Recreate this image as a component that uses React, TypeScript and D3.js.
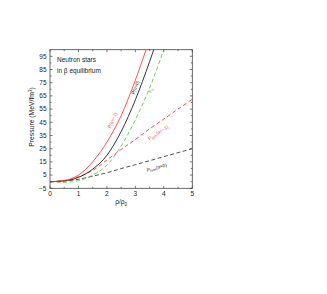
import React from 'react';
import * as d3 from 'd3';

// Data
const rhoRed = [0, 0.5, 1, 1.5, 2, 2.5, 3, 3.5];
const pAlphaM1 = [0, 0.9, 5, 15, 30, 50, 77, 108];

const rhoBlack = [0, 0.5, 1, 1.5, 2, 2.5, 3, 3.5, 3.8];
const pAlpha0 = [0, 0.6, 3.3, 9.5, 20, 38, 62, 91, 110];

const rhoGreen = [0, 0.5, 1, 1.5, 2, 2.5, 3, 3.5, 4, 4.2];
const p0 = [0, -0.5, 0.8, 5, 12.6, 27, 47, 71, 100, 112];

const rhoSym = [0, 0.5, 1, 1.5, 2, 2.5, 3, 3.5, 4, 4.5, 5];
const pSymAlphaM1 = [0, 0.8, 3.8, 8.5, 16.4, 24.5, 32, 40, 47.5, 55, 62.5];
const pSymAlpha0 = [0, 0.6, 1.8, 4.2, 6.8, 9.9, 12.9, 15.9, 19, 22, 25];

const xTicks = [0, 1, 2, 3, 4, 5];
const xMinorTicks = [0.5, 1.5, 2.5, 3.5, 4.5];
const yTicks = [-5, 5, 15, 25, 35, 45, 55, 65, 75, 85, 95];
const yMinorTicks = [0, 10, 20, 30, 40, 50, 60, 70, 80, 90, 100];

const W = 327;
const H = 294;
const L = 50, R = 192.3, T = 49.7, B = 188.3;

export default function App() {
  const x = d3.scaleLinear().domain([0, 5]).range([L, R]);
  const y = d3.scaleLinear().domain([-5, 100]).range([B, T]);
  const line = (xs: number[], ys: number[]) =>
    d3.line<number>().x((_, i) => x(xs[i])).y((d) => y(d)).curve(d3.curveMonotoneX)(ys) || '';

  const font = "'Liberation Sans', Arial, sans-serif";
  const red = '#ff3333';
  const green = '#5cc448';
  const axisColor = '#444';
  const tickLen = 2.5;
  const minorLen = 1.5;

  const lblRot = (px: number, py: number, ang: number) => `translate(${px},${py}) rotate(${ang})`;

  return (
    <svg width={W} height={H} style={{ position: 'absolute', left: 0, top: 0, background: '#fff' }} fontFamily={font}>
      <defs>
        <clipPath id="plot">
          <rect x={L} y={T} width={R - L} height={B - T} />
        </clipPath>
      </defs>
      <g clipPath="url(#plot)" fill="none" strokeWidth={0.85}>
        <path d={line(rhoSym, pSymAlpha0)} stroke="#333" strokeDasharray="4,2.5" />
        <path d={line(rhoSym, pSymAlphaM1)} stroke={red} strokeDasharray="4,2.5" />
        <path d={line(rhoGreen, p0)} stroke={green} strokeDasharray="4,2.5" />
        <path d={line(rhoBlack, pAlpha0)} stroke="#111" />
        <path d={line(rhoRed, pAlphaM1)} stroke={red} />
      </g>
      {/* frame */}
      <rect x={L} y={T} width={R - L} height={B - T} fill="none" stroke={axisColor} strokeWidth={0.8} />
      {/* ticks */}
      <g stroke={axisColor} strokeWidth={0.7}>
        {xTicks.map((t) => (
          <g key={'xt' + t}>
            <line x1={x(t)} x2={x(t)} y1={B} y2={B - tickLen} />
            <line x1={x(t)} x2={x(t)} y1={T} y2={T + tickLen} />
          </g>
        ))}
        {xMinorTicks.map((t) => (
          <g key={'xm' + t}>
            <line x1={x(t)} x2={x(t)} y1={B} y2={B - minorLen} />
            <line x1={x(t)} x2={x(t)} y1={T} y2={T + minorLen} />
          </g>
        ))}
        {yTicks.map((t) => (
          <g key={'yt' + t}>
            <line x1={L} x2={L + tickLen} y1={y(t)} y2={y(t)} />
            <line x1={R} x2={R - tickLen} y1={y(t)} y2={y(t)} />
          </g>
        ))}
        {yMinorTicks.map((t) => (
          <g key={'ym' + t}>
            <line x1={L} x2={L + minorLen} y1={y(t)} y2={y(t)} />
            <line x1={R} x2={R - minorLen} y1={y(t)} y2={y(t)} />
          </g>
        ))}
      </g>
      {/* tick labels */}
      <g fontSize={6.5} fill="#222">
        {xTicks.map((t) => (
          <text key={'xl' + t} x={x(t)} y={B + 8} textAnchor="middle">{t}</text>
        ))}
        {yTicks.map((t) => (
          <text key={'yl' + t} x={L - 3.5} y={y(t) + 2.3} textAnchor="end">{t < 0 ? '\u2212' + Math.abs(t) : t}</text>
        ))}
      </g>
      {/* axis titles */}
      <text x={x(2.5)} y={B + 16} fontSize={6.5} textAnchor="middle" fill="#222">
        ρ/ρ<tspan fontSize={4.5} dy={1.5}>0</tspan>
      </text>
      <text transform={`translate(34,${(T + B) / 2 - 2}) rotate(-90)`} fontSize={6.8} textAnchor="middle" fill="#222">
        Pressure (MeV/fm<tspan fontSize={4.5} dy={-2.5}>3</tspan><tspan dy={2.5}>)</tspan>
      </text>
      {/* annotation */}
      <text x={57} y={62} fontSize={6.5} fill="#222">Neutron stars</text>
      <text x={57} y={73} fontSize={6.5} fill="#222">in β equilibrium</text>
      {/* curve labels */}
      <g fontSize={4.6}>
        <text transform={lblRot(114, 121, -66)} textAnchor="middle" fill={red}>
          P(α=−1)
        </text>
        <text transform={lblRot(137, 88, -68)} textAnchor="middle" fill="#111">
          P(α=0)
        </text>
        <text transform={lblRot(152, 91, -66)} textAnchor="middle" fill={green}>
          P<tspan fontSize={3.5} dy={1}>0</tspan>
        </text>
        <text transform={lblRot(159, 134, -33)} textAnchor="middle" fill={red}>
          P<tspan fontSize={3.5} dy={1}>sym</tspan><tspan dy={-1}>(α=−1)</tspan>
        </text>
        <text transform={lblRot(157, 169, -15)} textAnchor="middle" fill="#111">
          P<tspan fontSize={3.5} dy={1}>sym</tspan><tspan dy={-1}>(α=0)</tspan>
        </text>
      </g>
    </svg>
  );
}
